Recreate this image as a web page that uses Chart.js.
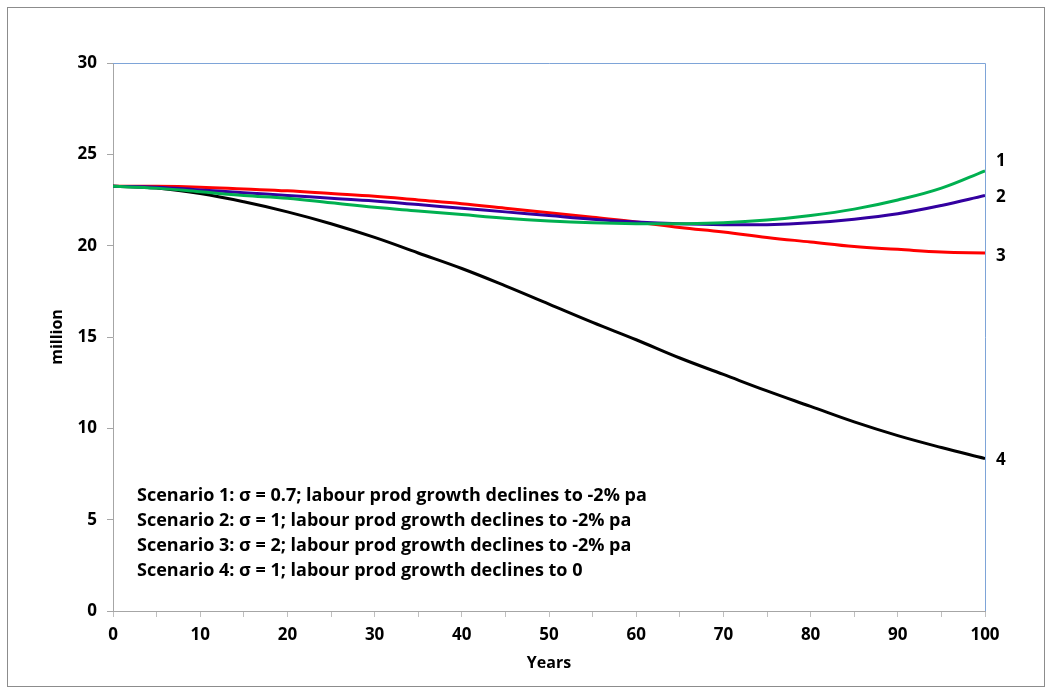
<!DOCTYPE html>
<html>
<head>
<meta charset="utf-8">
<script src="https://cdn.jsdelivr.net/npm/chart.js@4.4.0/dist/chart.umd.min.js"></script>
<style>
  html, body { margin: 0; padding: 0; background: #fff; }
  #wrap { width: 1049px; height: 691px; position: relative; }
</style>
</head>
<body>
<div id="wrap"><canvas id="chart"></canvas></div>
<script>
// years, every 5
const years = [0, 5, 10, 15, 20, 25, 30, 35, 40, 45, 50, 55, 60, 65, 70, 75, 80, 85, 90, 95, 100];

// population, million
const scenario1 = [23.25, 23.15, 22.95, 22.75, 22.6, 22.35, 22.1, 21.9, 21.7, 21.5, 21.35, 21.25, 21.2, 21.2, 21.25, 21.4, 21.65, 22.0, 22.5, 23.15, 24.1];
const scenario2 = [23.25, 23.2, 23.05, 22.9, 22.75, 22.6, 22.45, 22.25, 22.05, 21.85, 21.65, 21.45, 21.3, 21.2, 21.15, 21.15, 21.25, 21.45, 21.75, 22.2, 22.75];
const scenario3 = [23.25, 23.25, 23.2, 23.1, 23.0, 22.85, 22.7, 22.5, 22.3, 22.05, 21.8, 21.55, 21.3, 21.0, 20.75, 20.45, 20.2, 19.95, 19.8, 19.65, 19.6];
const scenario4 = [23.25, 23.15, 22.85, 22.4, 21.85, 21.2, 20.45, 19.6, 18.75, 17.8, 16.8, 15.8, 14.85, 13.85, 12.95, 12.05, 11.2, 10.35, 9.6, 8.95, 8.35];

const endLabels = ['1', '2', '3', '4'];
const notes = [
  'Scenario 1: \u03c3 = 0.7; labour prod growth declines to -2% pa',
  'Scenario 2: \u03c3 = 1; labour prod growth declines to -2% pa',
  'Scenario 3: \u03c3 = 2; labour prod growth declines to -2% pa',
  'Scenario 4: \u03c3 = 1; labour prod growth declines to 0'
];

const FONT = '"Open Sans", Lato, sans-serif';
const toPoints = (vals) => vals.map((v, i) => ({ x: years[i], y: v }));

const series = [
  { data: scenario1, color: '#00b050', labelShift: 0.5 },
  { data: scenario2, color: '#3300a0', labelShift: -0.1 },
  { data: scenario3, color: '#ff0000', labelShift: -0.2 },
  { data: scenario4, color: '#000000', labelShift: -0.1 }
];

// frame, top/right border, end labels and the scenario notes
const extras = {
  id: 'extras',
  beforeDraw(chart) {
    const c = chart.ctx;
    c.save();
    c.fillStyle = '#fff';
    c.fillRect(0, 0, chart.width, chart.height);
    c.strokeStyle = '#8c8c8c';
    c.lineWidth = 1;
    c.strokeRect(7.5, 7.5, chart.width - 12, chart.height - 12);
    c.restore();
  },
  afterDatasetsDraw(chart) {
    const c = chart.ctx;
    const a = chart.chartArea;
    const xs = chart.scales.x, ys = chart.scales.y;
    c.save();
    c.strokeStyle = '#7ea4d8';
    c.lineWidth = 1;
    c.beginPath();
    c.moveTo(a.left, a.top + 0.5);
    c.lineTo(a.right + 0.5, a.top + 0.5);
    c.lineTo(a.right + 0.5, a.bottom);
    c.stroke();

    c.fillStyle = '#000';
    c.font = 'bold 17px ' + FONT;
    c.textAlign = 'left';
    c.textBaseline = 'middle';
    series.forEach((s, i) => {
      const last = s.data[s.data.length - 1];
      c.fillText(endLabels[i], xs.getPixelForValue(100) + 11, ys.getPixelForValue(last + s.labelShift));
    });

    c.font = 'bold 18px ' + FONT;
    notes.forEach((t, i) => {
      c.fillText(t, a.left + 24, ys.getPixelForValue(6.3) + i * 25);
    });
    c.restore();
  }
};

new Chart(document.getElementById('chart'), {
  type: 'line',
  data: {
    datasets: series.map((s, i) => ({
      label: 'Scenario ' + (i + 1),
      data: toPoints(s.data),
      borderColor: s.color,
      borderWidth: 3,
      pointRadius: 0,
      tension: 0.4,
      fill: false
    }))
  },
  options: {
    responsive: true,
    maintainAspectRatio: false,
    animation: false,
    layout: { padding: { left: 44, right: 64, top: 63, bottom: 14 } },
    plugins: { legend: { display: false }, tooltip: { enabled: false } },
    scales: {
      x: {
        type: 'linear',
        min: 0,
        max: 100,
        afterFit(scale) { scale.height = 66; },
        ticks: {
          stepSize: 5,
          autoSkip: false,
          maxRotation: 0,
          color: '#000',
          font: { family: FONT, size: 17, weight: 'bold' },
          padding: 8,
          callback: (v) => (v % 10 === 0 ? v : '')
        },
        grid: { drawOnChartArea: false, drawTicks: true, tickLength: 6, color: '#bfbfbf' },
        border: { color: '#a6a6a6', width: 1 },
        title: { display: true, text: 'Years', color: '#000', font: { family: FONT, size: 16, weight: 'bold' }, padding: { top: 0 } }
      },
      y: {
        min: 0,
        max: 30,
        afterFit(scale) { scale.width = 69; },
        ticks: {
          stepSize: 5,
          color: '#000',
          font: { family: FONT, size: 17, weight: 'bold' },
          padding: 10
        },
        grid: { drawOnChartArea: false, drawTicks: true, tickLength: 6, color: '#a6a6a6' },
        border: { color: '#a6a6a6', width: 1 },
        title: { display: true, text: 'million', color: '#000', font: { family: FONT, size: 16, weight: 'bold' }, padding: { bottom: 8 } }
      }
    }
  },
  plugins: [extras]
});
</script>
</body>
</html>
